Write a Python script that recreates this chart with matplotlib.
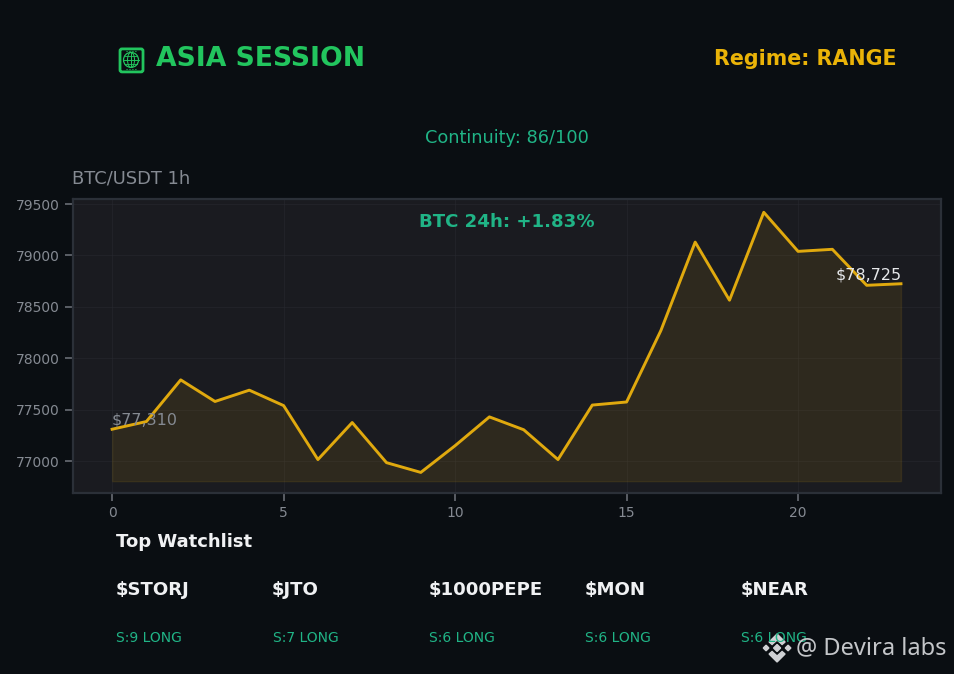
import matplotlib
matplotlib.use("Agg")
import matplotlib.pyplot as plt
from matplotlib.patches import Circle, Ellipse, FancyBboxPatch, Polygon

W, H = 954, 674

hours = list(range(24))
price = [77310, 77385, 77790, 77580, 77690, 77540, 77015, 77375, 76985, 76890,
         77150, 77430, 77305, 77015, 77545, 77575, 78270, 79130, 78565, 79420,
         79040, 79060, 78710, 78725]
fill_base = 76805
symbols = ["$STORJ", "$JTO", "$1000PEPE", "$MON", "$NEAR"]
scores = ["S:9 LONG", "S:7 LONG", "S:6 LONG", "S:6 LONG", "S:6 LONG"]

BG = "#0a0e12"
PANEL = "#1a1b20"
GOLD = "#e0a90e"
GREEN = "#22c55e"
TEAL = "#20b486"
GREY = "#858a92"

fig = plt.figure(figsize=((W + 0.1) / 100, (H + 0.1) / 100), dpi=100, facecolor=BG)

# overlay in pixel coords, y going down, for header/footer text
top = fig.add_axes([0, 0, 1, 1], zorder=3)
top.set_xlim(0, W)
top.set_ylim(H, 0)
top.axis("off")

ax = fig.add_axes([73 / W, 1 - 493 / H, (941 - 73) / W, (493 - 199) / H], facecolor=PANEL)
ax.plot(hours, price, color=GOLD, lw=2.1, zorder=3)
ax.fill_between(hours, price, fill_base, color=GOLD, alpha=0.1, zorder=2)
ax.set_xlim(-1.14, 24.17)
ax.set_ylim(76690, 79550)
ax.set_xticks([0, 5, 10, 15, 20])
ax.set_yticks([77000, 77500, 78000, 78500, 79000, 79500])
ax.grid(color="#2a2c33", lw=0.7, alpha=0.45)
ax.set_axisbelow(True)
ax.tick_params(colors=GREY, labelsize=10, length=6, width=1.1, color="#70757d")
for s in ax.spines.values():
    s.set_color("#2b3038")
    s.set_linewidth(1.6)

ax.annotate(f"${price[0]:,}", (0, price[0]), xytext=(0, 2), textcoords="offset pixels",
            color=GREY, fontsize=11.5, va="bottom", ha="left", zorder=4)
ax.annotate(f"${price[-1]:,}", (23, price[-1]), xytext=(1, 1), textcoords="offset pixels",
            color="#e6e8eb", fontsize=11.5, va="bottom", ha="right", zorder=4)

top.text(156, 59, "ASIA SESSION", color=GREEN, fontsize=19.2, fontweight="bold", va="center")
top.text(897, 59, "Regime: RANGE", color="#eab308", fontsize=14.9, fontweight="bold", va="center", ha="right")
top.text(507, 138, "Continuity: 86/100", color=TEAL, fontsize=12.8, va="center", ha="center")
top.text(72, 178, "BTC/USDT 1h", color=GREY, fontsize=12.85, va="center")
top.text(507, 222, "BTC 24h: +1.83%", color=TEAL, fontsize=13.1, fontweight="bold", va="center", ha="center")
top.text(116, 542, "Top Watchlist", color="#f0f1f3", fontsize=13, fontweight="bold", va="center")

col_x = [115.5, 272, 428.5, 584.5, 740.5]
for x, sym, sc in zip(col_x, symbols, scores):
    top.text(x, 590, sym, color="#f0f1f3", fontsize=13.1, fontweight="bold", va="center")
    top.text(x + 0.5, 638, sc, color=TEAL, fontsize=10, va="center")

# globe icon
top.add_patch(FancyBboxPatch((120, 49), 23, 23, boxstyle="round,pad=0,rounding_size=2", fill=False, ec=GREEN, lw=2))
top.add_patch(Circle((131, 60), 7.5, fill=False, ec=GREEN, lw=0.9))
top.add_patch(Ellipse((131, 60), 7, 15, fill=False, ec=GREEN, lw=0.7))
top.plot([123.5, 138.5], [60, 60], color=GREEN, lw=0.7)
top.plot([131, 131], [52.5, 67.5], color=GREEN, lw=0.7)
top.plot([125, 137], [56, 56], color=GREEN, lw=0.6)
top.plot([125, 137], [64, 64], color=GREEN, lw=0.6)
top.plot([126, 136], [51, 51], color=GREEN, lw=0.8, ls=":")
top.plot([126, 136], [69.5, 69.5], color=GREEN, lw=0.8, ls=":")

# watermark
MARK = "#cfd1d4"
cx, cy = 777, 648
top.add_patch(Polygon([(cx, cy - 14), (cx + 8, cy - 6), (cx + 5, cy - 3.5), (cx, cy - 8), (cx - 5, cy - 3.5), (cx - 8, cy - 6)], color=MARK))
top.add_patch(Polygon([(cx, cy + 14), (cx + 8, cy + 6), (cx + 5, cy + 3.5), (cx, cy + 8), (cx - 5, cy + 3.5), (cx - 8, cy + 6)], color=MARK))
for dx, r in ((-11, 2.8), (0, 3.5), (11, 2.8)):
    top.add_patch(Polygon([(cx + dx - r, cy), (cx + dx, cy - r), (cx + dx + r, cy), (cx + dx, cy + r)], color=MARK))
top.text(796, 648, "@ Devira labs", color="#c4c6c9", family="Noto Sans", fontsize=17, va="center")

fig.savefig("out.png", dpi=100, facecolor=BG)
